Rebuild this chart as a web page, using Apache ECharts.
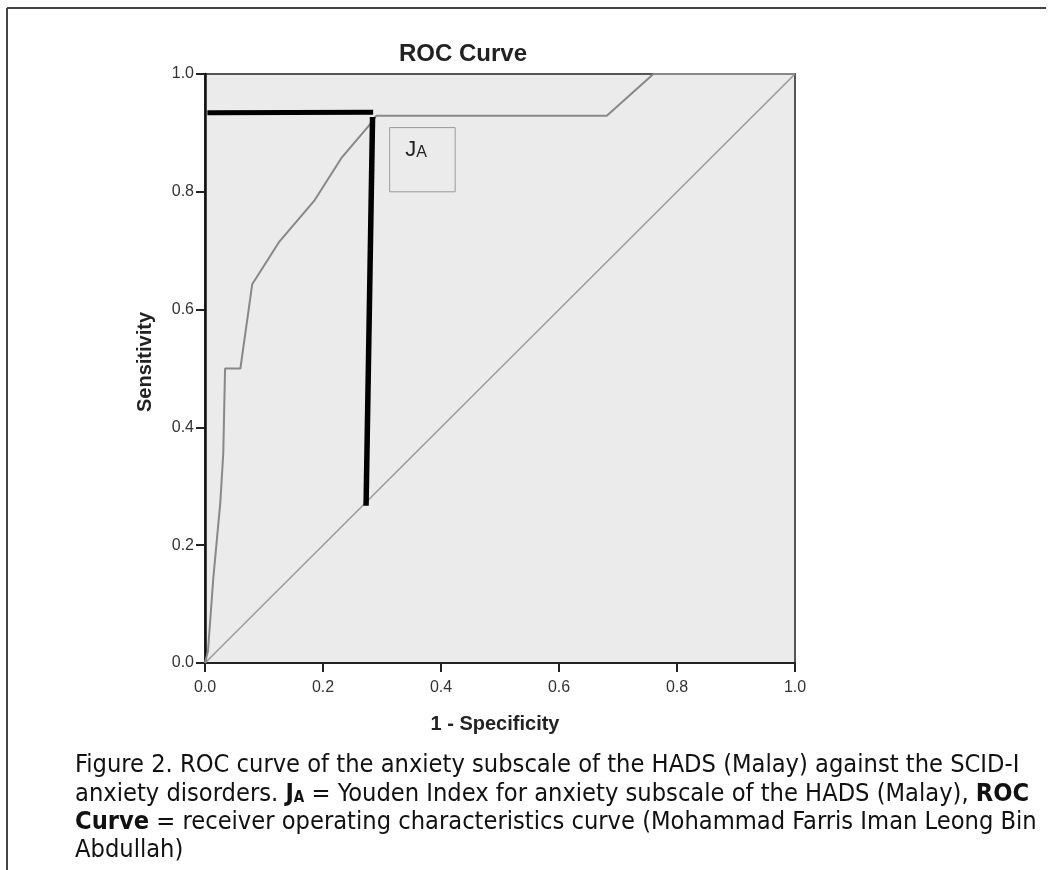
<!DOCTYPE html>
<html>
<head>
<meta charset="utf-8">
<script src="https://cdn.jsdelivr.net/npm/echarts@6/dist/echarts.min.js"></script>
<style>
  html, body { margin: 0; padding: 0; background: #fff; }
  #chart { width: 1052px; height: 870px; }
</style>
</head>
<body>
<div id="chart"></div>
<script>
// ROC curve points [1 - specificity, sensitivity]
const rocPoints = [
  [0, 0], [0.005, 0.02], [0.014, 0.143], [0.026, 0.273], [0.031, 0.357],
  [0.034, 0.5], [0.06, 0.5], [0.08, 0.643], [0.125, 0.714], [0.186, 0.786],
  [0.231, 0.857], [0.28, 0.915], [0.29, 0.929], [0.681, 0.929], [0.76, 1], [1, 1]
];
const referenceLine = [[0, 0], [1, 1]];
// Youden index marker lines
const youdenHorizontal = [[0.004, 0.934], [0.285, 0.935]];
const youdenVertical = [[0.284, 0.927], [0.273, 0.267]];
const tickValues = [0, 0.2, 0.4, 0.6, 0.8, 1.0];

const captionFont = '"DejaVu Sans Condensed", "DejaVu Sans", sans-serif';
const capSize = 25.2;
const chart = echarts.init(document.getElementById('chart'));

const axisCommon = {
  type: 'value',
  min: 0,
  max: 1,
  interval: 0.2,
  splitLine: { show: false },
  axisTick: { length: 9, lineStyle: { color: '#222', width: 2 } },
  axisLabel: {
    color: '#333',
    fontFamily: 'Liberation Sans, Arial',
    fontSize: 16,
    formatter: v => (tickValues.includes(+v.toFixed(1)) ? v.toFixed(1) : '')
  }
};

const option = {
  animation: false,
  backgroundColor: '#fff',
  grid: {
    left: 205,
    top: 74,
    width: 590,
    height: 589,
    show: true,
    backgroundColor: '#ebebeb',
    borderColor: '#555',
    borderWidth: 2
  },
  xAxis: {
    ...axisCommon,
    axisLine: { onZero: false, lineStyle: { color: '#222', width: 2 } },
    axisLabel: { ...axisCommon.axisLabel, margin: 17 }
  },
  yAxis: {
    ...axisCommon,
    axisLine: { onZero: false, lineStyle: { color: '#111', width: 2.5 } },
    axisLabel: { ...axisCommon.axisLabel, margin: 11 }
  },
  series: [
    {
      type: 'line',
      name: 'Reference',
      data: referenceLine,
      symbol: 'none',
      lineStyle: { color: '#9a9a9a', width: 1.5 },
      z: 2
    },
    {
      type: 'line',
      name: 'ROC',
      data: rocPoints,
      symbol: 'none',
      lineStyle: { color: '#888', width: 2 },
      z: 3,
      markArea: {
        silent: true,
        itemStyle: { color: 'rgba(0,0,0,0)', borderColor: '#999', borderWidth: 1 },
        label: {
          show: true,
          position: [16, 12],
          rich: {
            j: { fontFamily: 'Liberation Sans, Arial', fontSize: 22, color: '#222' },
            a: { fontFamily: 'Liberation Sans, Arial', fontSize: 16, color: '#222', padding: [5, 0, 0, 0] }
          },
          formatter: '{j|J}{a|A}'
        },
        data: [[{ coord: [0.313, 0.909] }, { coord: [0.424, 0.80] }]]
      }
    },
    {
      type: 'line',
      name: 'Youden H',
      data: youdenHorizontal,
      symbol: 'none',
      lineStyle: { color: '#000', width: 5, cap: 'butt' },
      z: 4
    },
    {
      type: 'line',
      name: 'Youden V',
      data: youdenVertical,
      symbol: 'none',
      lineStyle: { color: '#000', width: 5.5, cap: 'butt' },
      z: 4
    }
  ],
  graphic: [
    // page frame
    { type: 'line', shape: { x1: 7, y1: 8, x2: 1046, y2: 8 }, style: { stroke: '#444', lineWidth: 2 } },
    { type: 'line', shape: { x1: 7, y1: 8, x2: 7, y2: 870 }, style: { stroke: '#444', lineWidth: 2 } },
    {
      type: 'text', x: 463, y: 54,
      style: { text: 'ROC Curve', font: 'bold 24px "Liberation Sans", Arial', fill: '#222', textAlign: 'center', textVerticalAlign: 'middle' }
    },
    {
      type: 'text', x: 145, y: 362, rotation: Math.PI / 2,
      style: { text: 'Sensitivity', font: 'bold 20px "Liberation Sans", Arial', fill: '#222', textAlign: 'center', textVerticalAlign: 'middle' }
    },
    {
      type: 'text', x: 495, y: 724,
      style: { text: '1 - Specificity', font: 'bold 20px "Liberation Sans", Arial', fill: '#222', textAlign: 'center', textVerticalAlign: 'middle' }
    },
    {
      type: 'text', x: 75, y: 765,
      style: {
        text: 'Figure 2. ROC curve of the anxiety subscale of the HADS (Malay) against the SCID-I',
        font: capSize + 'px ' + captionFont, fill: '#111', textVerticalAlign: 'middle'
      }
    },
    {
      type: 'text', x: 75, y: 794,
      style: {
        text: '{n|anxiety disorders. }{b|J}{s|A}{n| = Youden Index for anxiety subscale of the HADS (Malay), }{b|ROC}',
        font: capSize + 'px ' + captionFont, fill: '#111', textVerticalAlign: 'middle',
        rich: {
          n: { fontFamily: captionFont, fontSize: capSize, fill: '#111' },
          b: { fontFamily: captionFont, fontSize: capSize, fontWeight: 'bold', fill: '#111' },
          s: { fontFamily: captionFont, fontSize: 15, fontWeight: 'bold', fill: '#111', padding: [9, 0, 0, 0] }
        }
      }
    },
    {
      type: 'text', x: 75, y: 822,
      style: {
        text: '{b|Curve}{n| = receiver operating characteristics curve (Mohammad Farris Iman Leong Bin}',
        font: capSize + 'px ' + captionFont, fill: '#111', textVerticalAlign: 'middle',
        rich: {
          n: { fontFamily: captionFont, fontSize: capSize, fill: '#111' },
          b: { fontFamily: captionFont, fontSize: capSize, fontWeight: 'bold', fill: '#111' }
        }
      }
    },
    {
      type: 'text', x: 75, y: 850,
      style: { text: 'Abdullah)', font: capSize + 'px ' + captionFont, fill: '#111', textVerticalAlign: 'middle' }
    }
  ]
};

chart.setOption(option);
</script>
</body>
</html>
